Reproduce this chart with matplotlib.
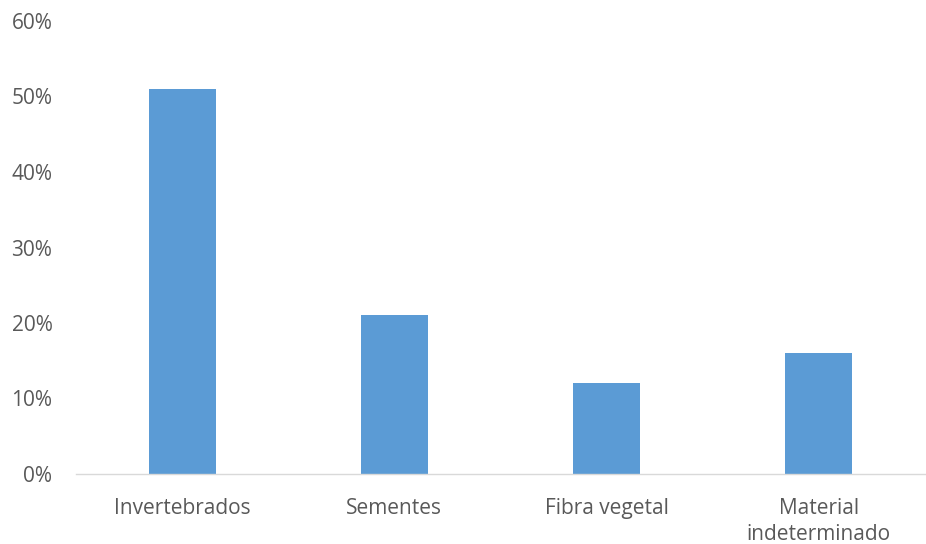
import matplotlib
matplotlib.use("Agg")
import matplotlib.pyplot as plt
from matplotlib.ticker import FuncFormatter

categories = ["Invertebrados", "Sementes", "Fibra vegetal", "Material\nindeterminado"]
values = [0.51, 0.21, 0.12, 0.16]
yticks = [0, 0.1, 0.2, 0.3, 0.4, 0.5, 0.6]

plt.rcParams['font.family'] = ['Open Sans', 'DejaVu Sans']

fig = plt.figure(figsize=(9.26, 5.44), dpi=100)
ax = fig.add_axes([76/926, 1-474/544, 849/926, (474-21)/544])

x = range(len(categories))
ax.bar(x, values, width=0.315, color="#5B9BD5", zorder=2)
ax.set_xlim(-0.5, len(categories)-0.5)
ax.set_ylim(0, 0.6)
ax.set_yticks(yticks)
ax.yaxis.set_major_formatter(FuncFormatter(lambda v, p: f"{v*100:.0f}%"))
ax.set_xticks(list(x))
ax.set_xticklabels(categories, linespacing=1.33)

for s in ["top", "right", "left"]:
    ax.spines[s].set_visible(False)
ax.spines["bottom"].set_color("#D9D9D9")
ax.spines["bottom"].set_linewidth(1.0)
ax.tick_params(axis="both", length=0, labelsize=15, labelcolor="#595959")
ax.tick_params(axis="y", pad=17)
ax.tick_params(axis="x", pad=17)

fig.savefig("out.png", dpi=100)
